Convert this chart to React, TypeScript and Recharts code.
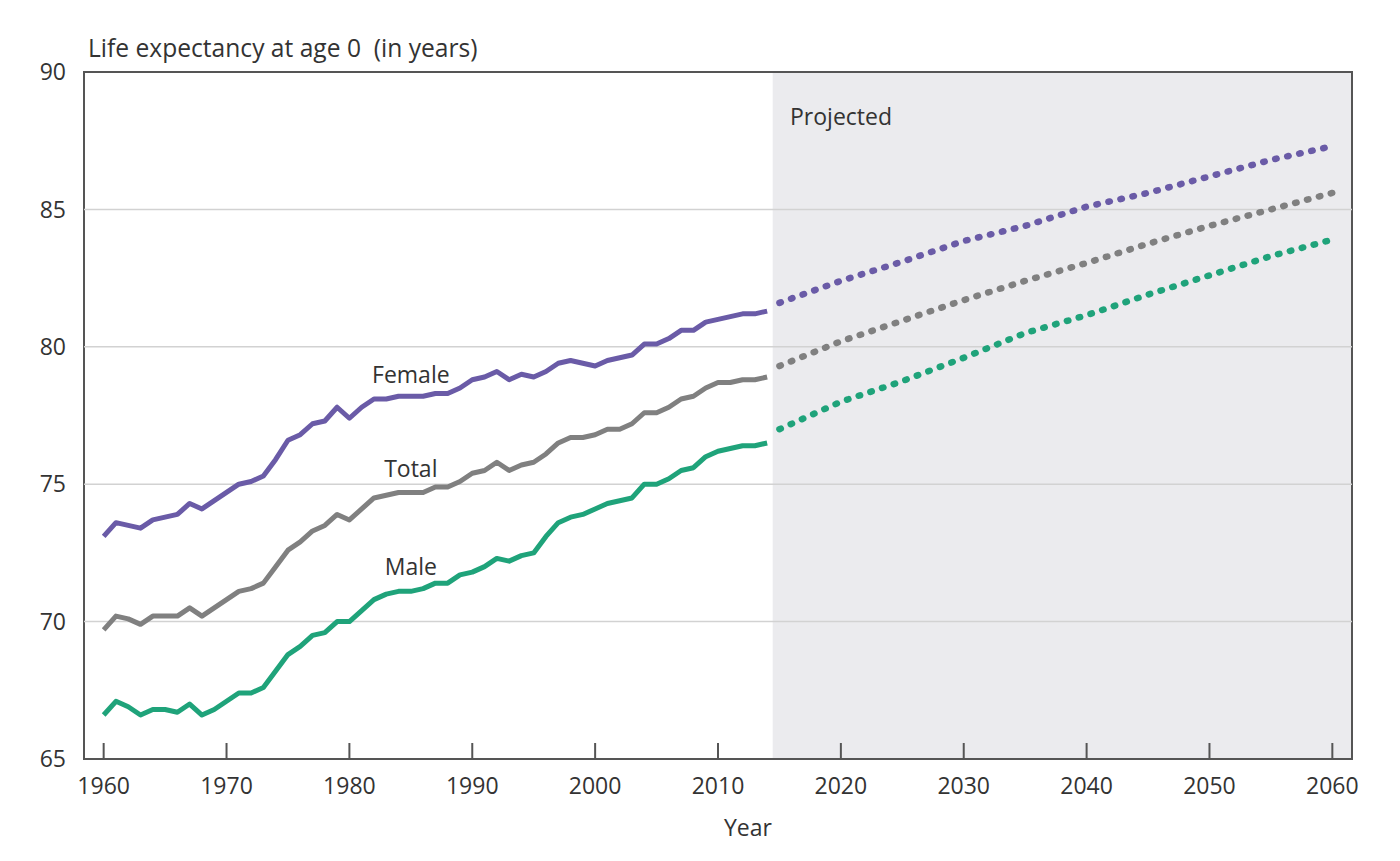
import React from 'react';
import { ComposedChart, Line, XAxis, YAxis, ReferenceArea, ReferenceLine, ReferenceDot } from 'recharts';

const histYears = [
  1960, 1961, 1962, 1963, 1964, 1965, 1966, 1967, 1968, 1969,
  1970, 1971, 1972, 1973, 1974, 1975, 1976, 1977, 1978, 1979,
  1980, 1981, 1982, 1983, 1984, 1985, 1986, 1987, 1988, 1989,
  1990, 1991, 1992, 1993, 1994, 1995, 1996, 1997, 1998, 1999,
  2000, 2001, 2002, 2003, 2004, 2005, 2006, 2007, 2008, 2009,
  2010, 2011, 2012, 2013, 2014,
];
const femaleHist = [
  73.1, 73.6, 73.5, 73.4, 73.7, 73.8, 73.9, 74.3, 74.1, 74.4,
  74.7, 75.0, 75.1, 75.3, 75.9, 76.6, 76.8, 77.2, 77.3, 77.8,
  77.4, 77.8, 78.1, 78.1, 78.2, 78.2, 78.2, 78.3, 78.3, 78.5,
  78.8, 78.9, 79.1, 78.8, 79.0, 78.9, 79.1, 79.4, 79.5, 79.4,
  79.3, 79.5, 79.6, 79.7, 80.1, 80.1, 80.3, 80.6, 80.6, 80.9,
  81.0, 81.1, 81.2, 81.2, 81.3,
];
const totalHist = [
  69.7, 70.2, 70.1, 69.9, 70.2, 70.2, 70.2, 70.5, 70.2, 70.5,
  70.8, 71.1, 71.2, 71.4, 72.0, 72.6, 72.9, 73.3, 73.5, 73.9,
  73.7, 74.1, 74.5, 74.6, 74.7, 74.7, 74.7, 74.9, 74.9, 75.1,
  75.4, 75.5, 75.8, 75.5, 75.7, 75.8, 76.1, 76.5, 76.7, 76.7,
  76.8, 77.0, 77.0, 77.2, 77.6, 77.6, 77.8, 78.1, 78.2, 78.5,
  78.7, 78.7, 78.8, 78.8, 78.9,
];
const maleHist = [
  66.6, 67.1, 66.9, 66.6, 66.8, 66.8, 66.7, 67.0, 66.6, 66.8,
  67.1, 67.4, 67.4, 67.6, 68.2, 68.8, 69.1, 69.5, 69.6, 70.0,
  70.0, 70.4, 70.8, 71.0, 71.1, 71.1, 71.2, 71.4, 71.4, 71.7,
  71.8, 72.0, 72.3, 72.2, 72.4, 72.5, 73.1, 73.6, 73.8, 73.9,
  74.1, 74.3, 74.4, 74.5, 75.0, 75.0, 75.2, 75.5, 75.6, 76.0,
  76.2, 76.3, 76.4, 76.4, 76.5,
];

const projYears = [2015, 2020, 2025, 2030, 2035, 2040, 2045, 2050, 2055, 2060];
const femaleProj = [81.6, 82.4, 83.1, 83.85, 84.4, 85.1, 85.6, 86.2, 86.8, 87.3];
const totalProj = [79.3, 80.2, 80.95, 81.7, 82.4, 83.05, 83.75, 84.4, 85.0, 85.6];
const maleProj = [77.0, 78.0, 78.75, 79.6, 80.5, 81.15, 81.9, 82.6, 83.3, 83.9];

const xTicks = [1960, 1970, 1980, 1990, 2000, 2010, 2020, 2030, 2040, 2050, 2060];
const yTicks = [65, 70, 75, 80, 85, 90];
const gridValues = [70, 75, 80, 85];

const X_MIN = 1958.4;
const X_MAX = 2061.6;
const PROJ_START = 2014.45;

const table = [
  ...histYears.map((year, i) => ({ year, female: femaleHist[i], total: totalHist[i], male: maleHist[i] })),
  ...projYears.map((year, i) => ({ year, femaleP: femaleProj[i], totalP: totalProj[i], maleP: maleProj[i] })),
];

const FONT = '"Open Sans", sans-serif';
const TEXT = '#333333';
const PURPLE = '#6a5ba7';
const GRAY = '#808080';
const GREEN = '#1fa37a';
const FRAME = '#555555';
const FS = 23;

const XTick = (props: any) => {
  const { x, y, payload } = props;
  return (
    <g>
      <line x1={x} x2={x} y1={y} y2={y - 16} stroke={FRAME} strokeWidth={2} />
      <text x={x} y={y + 35} textAnchor="middle" fill={TEXT} fontSize={FS} fontFamily={FONT}>
        {payload.value}
      </text>
    </g>
  );
};

const YTitle = (props: any) => {
  const vb = props.viewBox;
  return (
    <text
      x={vb.x + vb.width + 4}
      y={vb.y - 15}
      fill={TEXT}
      fontSize={24.6}
      fontFamily={FONT}
      style={{ whiteSpace: 'pre' }}
      xmlSpace="preserve"
    >
      {'Life expectancy at age 0  (in years)'}
    </text>
  );
};

const XTitle = (props: any) => {
  const vb = props.viewBox;
  return (
    <text x={vb.x + vb.width / 2 + 30} y={vb.y + 77} textAnchor="middle" fill={TEXT} fontSize={FS} fontFamily={FONT}>
      Year
    </text>
  );
};

const labelStyle = { fill: TEXT, fontSize: FS, fontFamily: FONT };

export default function App() {
  return (
    <div style={{ width: 1384, height: 845, background: '#fff' }}>
      <ComposedChart
        width={1384}
        height={845}
        data={table}
        margin={{ top: 64, right: 40, left: 6, bottom: 14 }}
      >
        <XAxis
          dataKey="year"
          type="number"
          domain={[X_MIN, X_MAX]}
          ticks={xTicks}
          allowDataOverflow
          axisLine={false}
          tickLine={false}
          tickSize={0}
          tickMargin={0}
          height={80}
          tick={<XTick />}
          interval={0}
          label={{ content: <XTitle /> } as any}
        />
        <YAxis
          type="number"
          domain={[65, 90]}
          ticks={yTicks}
          width={70}
          axisLine={false}
          tickLine={false}
          tickSize={6}
          tickMargin={12}
          interval={0}
          tick={{ fill: TEXT, fontSize: FS, fontFamily: FONT }}
          label={{ content: <YTitle /> } as any}
        />
        <ReferenceArea x1={PROJ_START} x2={X_MAX} y1={65} y2={90} fill="#ebebee" fillOpacity={1} stroke="none" ifOverflow="visible" />
        {gridValues.map((v) => (
          <ReferenceLine key={v} y={v} stroke="#d2d2d2" strokeWidth={1.5} />
        ))}
        <ReferenceArea x1={X_MIN} x2={X_MAX} y1={65} y2={90} fill="none" stroke={FRAME} strokeWidth={2} ifOverflow="visible" />
        <Line dataKey="female" stroke={PURPLE} strokeWidth={5} dot={false} activeDot={false} strokeLinejoin="round" isAnimationActive={false} />
        <Line dataKey="total" stroke={GRAY} strokeWidth={5} dot={false} activeDot={false} strokeLinejoin="round" isAnimationActive={false} />
        <Line dataKey="male" stroke={GREEN} strokeWidth={5} dot={false} activeDot={false} strokeLinejoin="round" isAnimationActive={false} />
        <Line dataKey="femaleP" stroke={PURPLE} strokeWidth={6.5} strokeDasharray="1.5 10.8" strokeLinecap="round" dot={false} activeDot={false} isAnimationActive={false} />
        <Line dataKey="totalP" stroke={GRAY} strokeWidth={6.5} strokeDasharray="1.5 10.8" strokeLinecap="round" dot={false} activeDot={false} isAnimationActive={false} />
        <Line dataKey="maleP" stroke={GREEN} strokeWidth={6.5} strokeDasharray="1.5 10.8" strokeLinecap="round" dot={false} activeDot={false} isAnimationActive={false} />
        <ReferenceDot x={1985} y={78.97} r={0} fill="none" stroke="none" label={{ value: 'Female', position: 'center', ...labelStyle }} />
        <ReferenceDot x={1985} y={75.55} r={0} fill="none" stroke="none" label={{ value: 'Total', position: 'center', ...labelStyle }} />
        <ReferenceDot x={1985} y={71.99} r={0} fill="none" stroke="none" label={{ value: 'Male', position: 'center', ...labelStyle }} />
        <ReferenceDot x={2015.86} y={88.37} r={0} fill="none" stroke="none" label={{ value: 'Projected', position: 'right', offset: 0, ...labelStyle }} />
      </ComposedChart>
    </div>
  );
}
